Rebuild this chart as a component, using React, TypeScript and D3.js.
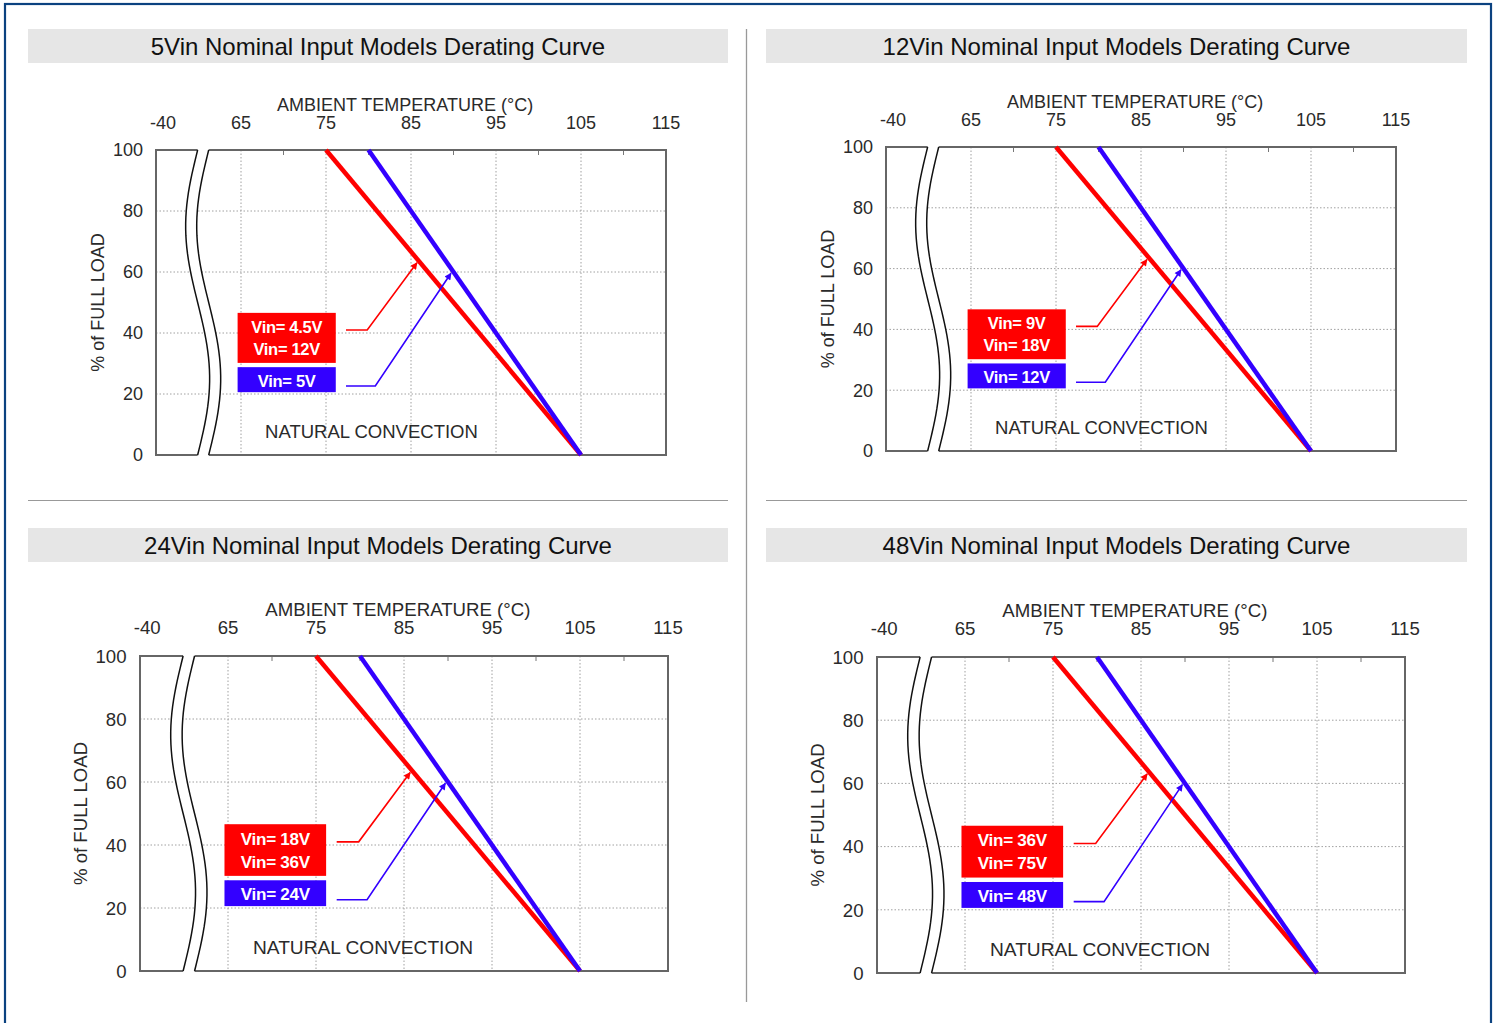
import React from 'react';
import * as d3 from 'd3';

// ---------- data ----------
const PANEL_TITLES = [
  '5Vin Nominal Input Models Derating Curve',
  '12Vin Nominal Input Models Derating Curve',
  '24Vin Nominal Input Models Derating Curve',
  '48Vin Nominal Input Models Derating Curve',
];
const RED_LABELS = [
  ['Vin= 4.5V', 'Vin= 12V'],
  ['Vin= 9V', 'Vin= 18V'],
  ['Vin= 18V', 'Vin= 36V'],
  ['Vin= 36V', 'Vin= 75V'],
];
const BLUE_LABELS = ['Vin= 5V', 'Vin= 12V', 'Vin= 24V', 'Vin= 48V'];

const X_AXIS_TITLE = 'AMBIENT TEMPERATURE (°C)';
const Y_AXIS_TITLE = '% of FULL LOAD';
const NOTE = 'NATURAL CONVECTION';

const X_DOMAIN = [55, 115]; // broken axis: left edge stands for -40
const X_MIN_LABEL = '-40';
const X_TICKS = [65, 75, 85, 95, 105, 115];
const X_TICK_LABELS = ['65', '75', '85', '95', '105', '115'];
const X_MINOR = [70, 80, 90, 100, 110];
const Y_TICKS = [0, 20, 40, 60, 80, 100];

// derating curves (temperature °C, % load)
const RED_CURVE: [number, number][] = [[75, 100], [105, 0]];
const BLUE_CURVE: [number, number][] = [[80, 100], [105, 0]];

// annotation geometry in data units
const RED_ARROW: [number, number][] = [[77.35, 41], [79.85, 41], [85.7, 63]];
const BLUE_ARROW: [number, number][] = [[77.35, 22.6], [80.8, 22.6], [89.7, 59.6]];
const BOX_T = [64.6, 76.15];
const RED_BOX_P = [30.2, 46.6];
const BLUE_BOX_P = [20.6, 28.8];
const BREAK_T = [59.9, 61.2];
const NOTE_POS: [number, number] = [80.35, 5.5];
const X_TITLE_T = 84.3;

// ---------- layout ----------
const LAYOUT = [
  { bar: { x: 28, y: 29, w: 700, h: 34 }, L: 156, T: 150, W: 510, H: 305 },
  { bar: { x: 766, y: 29, w: 701, h: 34 }, L: 886, T: 147, W: 510, H: 304 },
  { bar: { x: 28, y: 528, w: 700, h: 34 }, L: 140, T: 656, W: 528, H: 315 },
  { bar: { x: 766, y: 528, w: 701, h: 34 }, L: 877, T: 657, W: 528, H: 316 },
];

const RED = '#ff0000';
const BLUE = '#3300ff';
const TXT = '#2a2a2a';
const FONT = '"Liberation Sans", Arial, sans-serif';

function Panel({ i }: { i: number }) {
  const g = LAYOUT[i];
  const k = g.W / 510;
  const x = d3.scaleLinear().domain(X_DOMAIN).range([g.L, g.L + g.W]);
  const y = d3.scaleLinear().domain([0, 100]).range([g.T + g.H, g.T]);
  const line = d3.line<[number, number]>().x((d) => x(d[0])).y((d) => y(d[1]));

  // break curves
  const amp = 12 * k;
  const ts = d3.range(0, 1.0001, 0.02);
  const curve = (t0: number) =>
    ts.map((t) => [x(t0) - amp * Math.sin(2 * Math.PI * t), g.T + t * g.H] as [number, number]);
  const c1 = curve(BREAK_T[0]);
  const c2 = curve(BREAK_T[1]);
  const pl = d3.line<[number, number]>().x((d) => d[0]).y((d) => d[1]);
  const fillPts: [number, number][] = [
    [c1[0][0], g.T - 3],
    ...c1,
    [c1[c1.length - 1][0], g.T + g.H + 3],
    [c2[c2.length - 1][0], g.T + g.H + 3],
    ...c2.slice().reverse(),
    [c2[0][0], g.T - 3],
  ];

  const redId = `arrR${i}`;
  const blueId = `arrB${i}`;
  const boxX = x(BOX_T[0]);
  const boxW = x(BOX_T[1]) - x(BOX_T[0]);
  const boxCx = boxX + boxW / 2;
  const redTop = y(RED_BOX_P[1]);
  const redH = y(RED_BOX_P[0]) - y(RED_BOX_P[1]);
  const blueTop = y(BLUE_BOX_P[1]);
  const blueH = y(BLUE_BOX_P[0]) - y(BLUE_BOX_P[1]);
  const lf = 16.5 * k;

  return (
    <g>
      <defs>
        <marker id={redId} viewBox="0 0 10 10" refX="9" refY="5" markerWidth="9" markerHeight="7"
          markerUnits="userSpaceOnUse" orient="auto">
          <path d="M0,0 L10,5 L0,10 z" fill={RED} />
        </marker>
        <marker id={blueId} viewBox="0 0 10 10" refX="9" refY="5" markerWidth="9" markerHeight="7"
          markerUnits="userSpaceOnUse" orient="auto">
          <path d="M0,0 L10,5 L0,10 z" fill={BLUE} />
        </marker>
      </defs>
      {/* title bar */}
      <rect x={g.bar.x} y={g.bar.y} width={g.bar.w} height={g.bar.h} fill="#e6e6e6" />
      <text x={g.bar.x + g.bar.w / 2} y={g.bar.y + 26} textAnchor="middle" fontSize={24}
        fontFamily={FONT} fill="#111">{PANEL_TITLES[i]}</text>

      {/* grid */}
      {X_TICKS.filter((t) => t < X_DOMAIN[1]).map((t) => (
        <line key={'gx' + t} x1={x(t)} x2={x(t)} y1={g.T} y2={g.T + g.H} stroke="#a0a0a0"
          strokeWidth={1} strokeDasharray="1.5,2" />
      ))}
      {Y_TICKS.filter((p) => p > 0 && p < 100).map((p) => (
        <line key={'gy' + p} x1={g.L} x2={g.L + g.W} y1={y(p)} y2={y(p)} stroke="#a0a0a0"
          strokeWidth={1} strokeDasharray="1.5,2" />
      ))}
      {X_MINOR.map((t) => (
        <line key={'mx' + t} x1={x(t)} x2={x(t)} y1={g.T} y2={g.T + 5} stroke="#777" strokeWidth={1} />
      ))}
      {/* frame */}
      <rect x={g.L} y={g.T} width={g.W} height={g.H} fill="none" stroke="#666" strokeWidth={2} />

      {/* axis break */}
      <path d={pl(fillPts) || ''} fill="#fff" stroke="none" />
      <path d={pl(c1) || ''} fill="none" stroke="#111" strokeWidth={1.5} />
      <path d={pl(c2) || ''} fill="none" stroke="#111" strokeWidth={1.5} />

      {/* tick labels */}
      <text x={x(X_DOMAIN[0]) + 7 * k} y={g.T - 21 * k} textAnchor="middle" fontSize={18 * k}
        fontFamily={FONT} fill={TXT}>{X_MIN_LABEL}</text>
      {X_TICKS.map((t, j) => (
        <text key={'xl' + t} x={x(t)} y={g.T - 21 * k} textAnchor="middle" fontSize={18 * k}
          fontFamily={FONT} fill={TXT}>{X_TICK_LABELS[j]}</text>
      ))}
      {Y_TICKS.map((p) => (
        <text key={'yl' + p} x={g.L - 13 * k} y={y(p)} dy="0.36em" textAnchor="end" fontSize={18 * k}
          fontFamily={FONT} fill={TXT}>{p}</text>
      ))}
      <text x={x(X_TITLE_T)} y={g.T - 39 * k} textAnchor="middle" fontSize={18 * k}
        fontFamily={FONT} fill={TXT}>{X_AXIS_TITLE}</text>
      <text transform={`translate(${g.L - 58 * k},${g.T + g.H / 2}) rotate(-90)`} textAnchor="middle"
        dy="0.36em" fontSize={18 * k} fontFamily={FONT} fill={TXT}>{Y_AXIS_TITLE}</text>

      {/* curves */}
      <path d={line(RED_CURVE) || ''} fill="none" stroke={RED} strokeWidth={4.5} />
      <path d={line(BLUE_CURVE) || ''} fill="none" stroke={BLUE} strokeWidth={4.5} />

      {/* annotations */}
      <path d={line(RED_ARROW) || ''} fill="none" stroke={RED} strokeWidth={1.6} markerEnd={`url(#${redId})`} />
      <path d={line(BLUE_ARROW) || ''} fill="none" stroke={BLUE} strokeWidth={1.6} markerEnd={`url(#${blueId})`} />

      <rect x={boxX} y={redTop} width={boxW} height={redH} fill={RED} />
      <text x={boxCx} y={redTop + redH / 2 - 11 * k} dy="0.36em" textAnchor="middle" fontSize={lf}
        letterSpacing={-0.3} fontWeight="bold" fontFamily={FONT} fill="#fff">{RED_LABELS[i][0]}</text>
      <text x={boxCx} y={redTop + redH / 2 + 11 * k} dy="0.36em" textAnchor="middle" fontSize={lf}
        letterSpacing={-0.3} fontWeight="bold" fontFamily={FONT} fill="#fff">{RED_LABELS[i][1]}</text>
      <rect x={boxX} y={blueTop} width={boxW} height={blueH} fill={BLUE} />
      <text x={boxCx} y={blueTop + blueH / 2 + 1} dy="0.36em" textAnchor="middle" fontSize={lf}
        letterSpacing={-0.3} fontWeight="bold" fontFamily={FONT} fill="#fff">{BLUE_LABELS[i]}</text>

      <text x={x(NOTE_POS[0])} y={y(NOTE_POS[1])} textAnchor="middle" fontSize={18.5 * k}
        fontFamily={FONT} fill={TXT}>{NOTE}</text>
    </g>
  );
}

export default function App() {
  return (
    <svg width={1497} height={1023} style={{ position: 'absolute', left: 0, top: 0, background: '#fff' }}>
      <rect x={0} y={0} width={1497} height={1023} fill="#fff" />
      <rect x={5} y={4} width={1486} height={1100} fill="none" stroke="#0b4280" strokeWidth={2.2} />
      <line x1={28} x2={728} y1={500.5} y2={500.5} stroke="#999" strokeWidth={1} />
      <line x1={766} x2={1467} y1={500.5} y2={500.5} stroke="#999" strokeWidth={1} />
      <line x1={746.5} x2={746.5} y1={29} y2={1002} stroke="#999" strokeWidth={1.3} />
      {LAYOUT.map((_, i) => (
        <Panel key={i} i={i} />
      ))}
    </svg>
  );
}
